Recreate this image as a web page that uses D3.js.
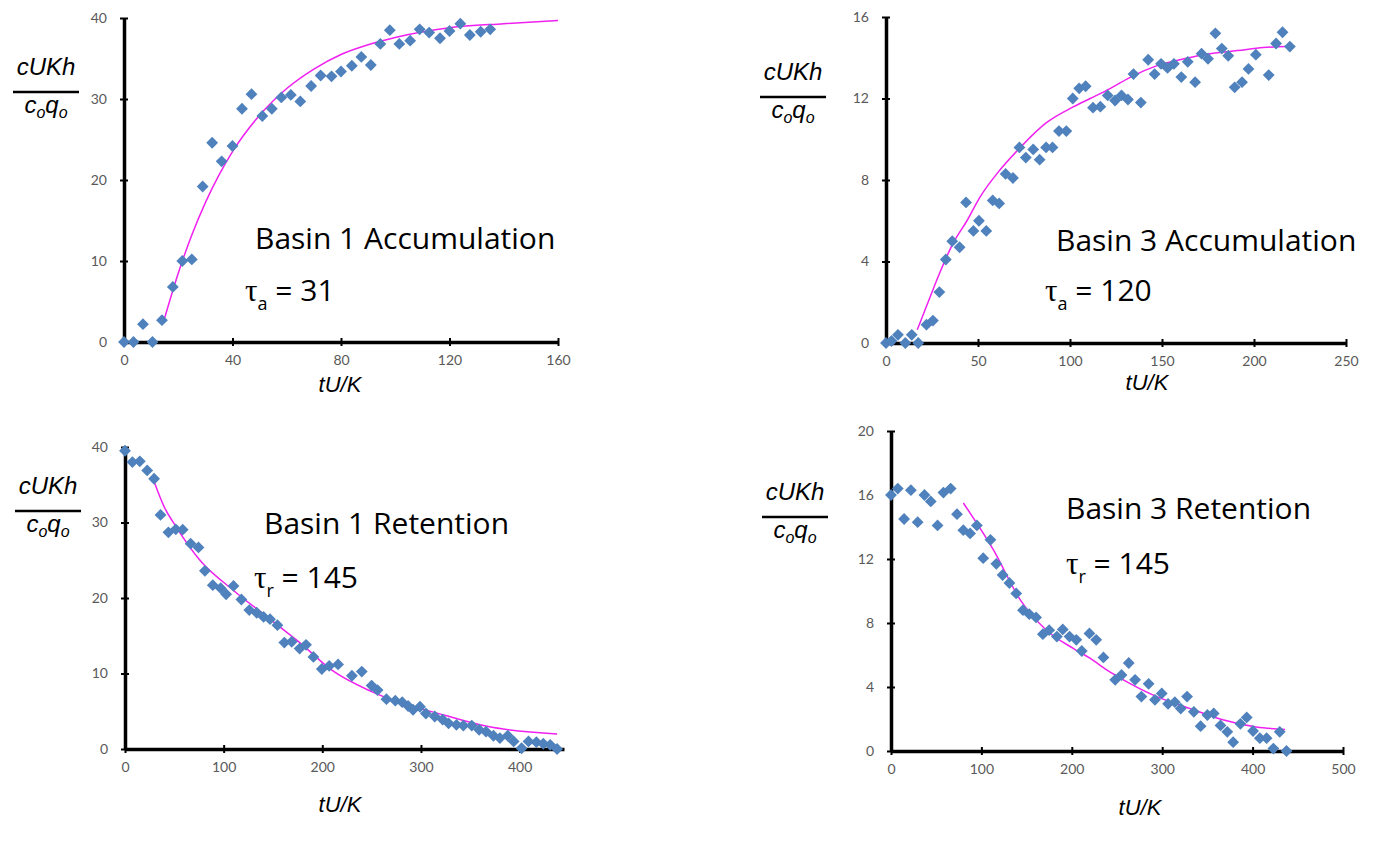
<!DOCTYPE html>
<html>
<head>
<meta charset="utf-8">
<script src="https://cdn.jsdelivr.net/npm/d3@7"></script>
<style>
  body { margin: 0; background: #fff; }
  .tick text { font-family: Lato, "Open Sans", sans-serif; font-size: 14px; fill: #595959; }
</style>
</head>
<body>
<script>
// measured points, [tU/K, cUKh/coqo]
const basin1Acc = [[0,0],[3.5,0],[7,2.2],[10.5,0],[14,2.7],[18,6.8],[21.5,10],[25,10.2],[29,19.2],[32.5,24.6],
  [36,22.3],[40,24.2],[43.5,28.8],[47,30.6],[51,27.9],[54.5,28.8],[58,30.2],[61.5,30.5],[65,29.7],[69,31.6],
  [72.5,32.9],[76.5,32.8],[80,33.4],[84,34.1],[87.5,35.2],[91,34.2],[94.5,36.8],[98,38.5],[101.5,36.8],[105.5,37.2],
  [109,38.6],[112.5,38.2],[116.5,37.5],[120,38.4],[124,39.3],[127.5,37.9],[131.5,38.3],[135,38.6]];
const basin1AccFit = [[15,3.0],[20,8.5],[25,13.2],[30,17.2],[35,20.6],[40,23.5],[50,28.0],[60,31.3],[70,33.7],
  [80,35.5],[90,36.7],[100,37.6],[120,38.8],[140,39.3],[160,39.7]];

const basin3Acc = [[0,0],[3,0.1],[6.5,0.4],[10.5,0],[14,0.4],[17.5,0],[22,0.9],[25.5,1.1],[29,2.5],[32.5,4.1],
  [36,5.0],[40,4.7],[43.5,6.9],[47.5,5.5],[50.5,6.0],[54.5,5.5],[58,7.0],[61.5,6.85],[65,8.3],[69,8.1],
  [72.5,9.6],[76,9.1],[80,9.5],[83.5,9.0],[87,9.6],[90.5,9.6],[94,10.4],[98,10.4],[101.5,12.0],[105,12.5],
  [108.5,12.6],[112.5,11.55],[116.5,11.6],[120.5,12.15],[124.5,11.9],[128,12.15],[131.5,11.95],[134.5,13.2],[138.5,11.8],[142.5,13.9],
  [146,13.2],[149.5,13.7],[153,13.5],[156.5,13.7],[160.5,13.05],[164,13.8],[168,12.8],[171.5,14.2],[175,13.95],[179,15.2],
  [182.5,14.45],[186,14.1],[189.5,12.55],[193.5,12.8],[197,13.45],[201,14.15],[208,13.15],[212,14.7],[215.5,15.25],[219.5,14.55]];
const basin3AccFit = [[17,0.65],[22,1.8],[29,3.4],[36.5,4.9],[44,6.0],[51,7.15],[62,8.5],[73,9.6],[87,10.8],
  [102,11.6],[111,12.0],[122,12.5],[134,13.1],[147,13.6],[162,13.95],[176,14.2],[191,14.35],[205,14.5],[218,14.55]];

const basin1Ret = [[0,39.5],[7.5,38],[15,38.1],[22.5,36.9],[29.5,35.8],[36,31],[44,28.7],[51.5,29.1],[58.5,29.05],[66.5,27.2],
  [74.5,26.7],[81,23.6],[89,21.7],[97,21.3],[102.5,20.5],[110,21.6],[118,19.8],[126,18.4],[133.5,18.05],[140.5,17.5],
  [147,17.2],[154.5,16.4],[161.5,14.1],[169,14.2],[177,13.3],[183.5,13.8],[191,12.2],[199.5,10.6],[207,11.0],[216,11.2],
  [230,9.7],[240,10.25],[250,8.4],[256,7.8],[265,6.6],[274,6.4],[281,6.2],[287,5.7],[292,5.2],[299,5.6],
  [305,4.7],[314,4.3],[322,3.9],[328,3.4],[336,3.2],[343,3.1],[351.5,3.1],[359,2.55],[366,2.3],[373.5,1.75],
  [380,1.45],[388,1.75],[394,1.0],[402,0.1],[409,1.0],[417,0.9],[424,0.7],[431,0.55],[438,0]];
const basin1RetFit = [[29,35.6],[40,32.0],[52,29.4],[76,25.0],[110,21.0],[144,17.5],[178,14.0],[210,10.4],
  [250,7.6],[326,4.4],[367,3.0],[438,2.0]];

const basin3Ret = [[0,16],[7.5,16.4],[14.5,14.5],[22,16.3],[29.5,14.3],[37,16],[44,15.6],[51.5,14.1],[58,16.15],[66,16.4],
  [73,14.8],[80,13.8],[87.5,13.6],[95,14.1],[102,12.05],[110,13.2],[116.5,11.7],[123.5,11.0],[131,10.5],[138.5,9.85],
  [146,8.8],[153,8.55],[160.5,8.35],[168,7.3],[175,7.55],[183.5,7.15],[190,7.6],[197.5,7.15],[205,6.95],[211,6.25],
  [219.5,7.35],[227,6.95],[235,5.85],[248,4.45],[255,4.75],[263,5.5],[270,4.45],[277,3.4],[285,4.2],[292,3.2],
  [299.5,3.6],[306.5,2.95],[314,3.05],[320.5,2.65],[327.5,3.4],[335,2.45],[342.5,1.55],[350,2.25],[357,2.35],[364.5,1.6],
  [372,1.2],[378.5,0.55],[386.5,1.7],[393.5,2.1],[400.5,1.25],[408,0.8],[415.5,0.8],[423,0.15],[430,1.2],[437.5,0]];
const basin3RetFit = [[80,15.5],[113,12.6],[143,9.45],[172,7.55],[202,6.4],[220,5.8],[239,5.05],[257,4.45],
  [294,3.4],[331,2.65],[367,1.95],[404,1.5],[436,1.35]];

const ticks1X = [0,40,80,120,160], ticks1Y = [0,10,20,30,40];
const ticks2X = [0,50,100,150,200,250], ticks2Y = [0,4,8,12,16];
const ticks3X = [0,100,200,300,400], ticks3Y = [0,10,20,30,40];
const ticks4X = [0,100,200,300,400,500], ticks4Y = [0,4,8,12,16,20];

const svg = d3.select("body").append("svg")
  .attr("width", 1380)
  .attr("height", 850);

function drawPanel(p) {
  const x = d3.scaleLinear().domain(p.xDom).range(p.xRange);
  const y = d3.scaleLinear().domain(p.yDom).range(p.yRange);
  const g = svg.append("g");

  // ticks crossing the axis: inner half without labels, outer half with labels
  g.append("g").attr("transform", `translate(0,${p.yRange[0]})`)
    .call(d3.axisBottom(x).tickValues(p.xTicks).tickSize(-4).tickFormat(""))
    .call(a => a.select(".domain").remove())
    .selectAll("line").attr("stroke", "#000").attr("stroke-width", 2);
  g.append("g").attr("transform", `translate(${p.xRange[0]},0)`)
    .call(d3.axisLeft(y).tickValues(p.yTicks).tickSize(-4).tickFormat(""))
    .call(a => a.select(".domain").remove())
    .selectAll("line").attr("stroke", "#000").attr("stroke-width", 2);

  const xa = g.append("g").attr("transform", `translate(0,${p.yRange[0]})`)
    .call(d3.axisBottom(x).tickValues(p.xTicks).tickSizeInner(4).tickSizeOuter(0).tickPadding(9));
  const ya = g.append("g").attr("transform", `translate(${p.xRange[0]},0)`)
    .call(d3.axisLeft(y).tickValues(p.yTicks).tickSizeInner(4).tickSizeOuter(0).tickPadding(13));
  [xa, ya].forEach(a => {
    a.select(".domain").attr("stroke", "#000").style("stroke-width", "3.5px");
    a.selectAll(".tick line").attr("stroke", "#000").attr("stroke-width", 2);
  });

  g.append("path").datum(p.fit)
    .attr("fill", "none").attr("stroke", "#f020f0").attr("stroke-width", 1.5)
    .attr("d", d3.line().x(d => x(d[0])).y(d => y(d[1])).curve(d3.curveMonotoneX));

  g.selectAll("path.pt").data(p.points).enter().append("path")
    .attr("class", "pt")
    .attr("d", d3.symbol(d3.symbolSquare, 70)())
    .attr("transform", d => `translate(${x(d[0])},${y(d[1])}) rotate(45)`)
    .attr("fill", "#4f81bd");

  // axis titles
  g.append("text").attr("x", p.xTitle[0]).attr("y", p.xTitle[1])
    .attr("text-anchor", "middle")
    .style("font-family", "Liberation Sans, Arial, sans-serif").style("font-style", "italic").style("font-size", "22px")
    .text("tU/K");

  const [fx, fy] = p.yTitle;
  g.append("text").attr("x", fx).attr("y", fy)
    .attr("text-anchor", "middle")
    .style("font-family", "Liberation Sans, Arial, sans-serif").style("font-style", "italic").style("font-size", "24px")
    .text("cUKh");
  g.append("line").attr("x1", fx - 33).attr("x2", fx + 33).attr("y1", fy + 17).attr("y2", fy + 17)
    .attr("stroke", "#000").attr("stroke-width", 2.5);
  const den = g.append("text").attr("x", fx).attr("y", fy + 38)
    .attr("text-anchor", "middle")
    .style("font-family", "Liberation Sans, Arial, sans-serif").style("font-style", "italic").style("font-size", "24px");
  den.append("tspan").text("c");
  den.append("tspan").attr("dy", 5).style("font-size", "16px").text("o");
  den.append("tspan").attr("dy", -5).text("q");
  den.append("tspan").attr("dy", 5).style("font-size", "16px").text("o");

  // annotation
  g.append("text").attr("x", p.label[0]).attr("y", p.label[1])
    .style("font-family", "Open Sans, sans-serif").style("font-size", "30px").attr("fill", "#000")
    .text(p.name);
  const tau = g.append("text").attr("x", p.tau[0]).attr("y", p.tau[1])
    .style("font-family", "Open Sans, sans-serif").style("font-size", "30px").attr("fill", "#000");
  tau.append("tspan").style("font-family", "Liberation Serif, serif").style("font-size", "31px").text("τ");
  tau.append("tspan").attr("dy", 9).style("font-size", "18px").text(p.sub);
  tau.append("tspan").attr("dy", -9).text(" = " + p.value);
}

drawPanel({ points: basin1Acc, fit: basin1AccFit, xDom: [0,160], yDom: [0,40],
  xRange: [124,558], yRange: [342,18], xTicks: ticks1X, yTicks: ticks1Y,
  xTitle: [340,392], yTitle: [46,75], label: [255,249], tau: [245,301],
  name: "Basin 1 Accumulation", sub: "a", value: "31" });

drawPanel({ points: basin3Acc, fit: basin3AccFit, xDom: [0,250], yDom: [0,16],
  xRange: [886,1346], yRange: [343,17], xTicks: ticks2X, yTicks: ticks2Y,
  xTitle: [1147,390], yTitle: [793,80], label: [1056,251], tau: [1045,301],
  name: "Basin 3 Accumulation", sub: "a", value: "120" });

drawPanel({ points: basin1Ret, fit: basin1RetFit, xDom: [0,445], yDom: [0,40],
  xRange: [125,564], yRange: [749,447], xTicks: ticks3X, yTicks: ticks3Y,
  xTitle: [340,812], yTitle: [48,494], label: [264,534], tau: [254,588],
  name: "Basin 1 Retention", sub: "r", value: "145" });

drawPanel({ points: basin3Ret, fit: basin3RetFit, xDom: [0,500], yDom: [0,20],
  xRange: [891,1343], yRange: [751,431], xTicks: ticks4X, yTicks: ticks4Y,
  xTitle: [1140,815], yTitle: [795,500], label: [1066,519], tau: [1066,574],
  name: "Basin 3 Retention", sub: "r", value: "145" });
</script>
</body>
</html>
